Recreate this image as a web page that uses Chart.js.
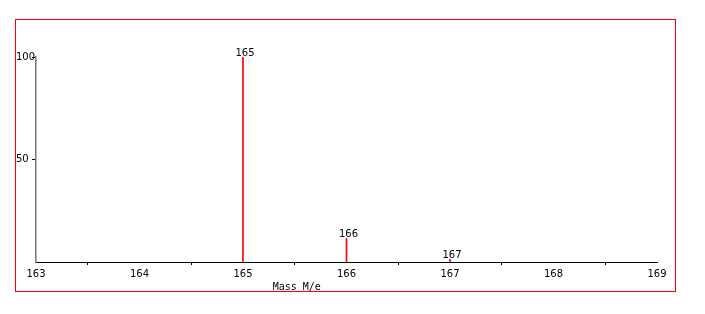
<!DOCTYPE html>
<html>
<head>
<meta charset="utf-8">
<script src="https://cdn.jsdelivr.net/npm/chart.js@4"></script>
<style>
  body { margin: 0; background: #fff; }
  #spectrum { display: block; }
</style>
</head>
<body>
<canvas id="spectrum" width="705" height="314"></canvas>
<script>
const masses = [165, 166, 167];
const intensities = [100, 11.5, 1.3];
const peakLabels = ['165', '166', '167'];
const yTicks = [50, 100];
const xTitle = 'Mass M/e';

const ctx = document.getElementById('spectrum').getContext('2d');

// red frame round the whole plot
const frame = {
    id: 'frame',
    beforeDraw(chart) {
        const c = chart.ctx;
        c.save();
        c.strokeStyle = '#ff0000';
        c.lineWidth = 1;
        c.strokeRect(15.5, 19.5, 660, 272);
        c.restore();
    }
};

// labels over each peak + the off-centre axis title
const peakText = {
    id: 'peakText',
    afterDatasetsDraw(chart) {
        const c = chart.ctx;
        const meta = chart.getDatasetMeta(0);
        c.save();
        c.fillStyle = '#000';
        c.font = '10px "DejaVu Sans"';
        c.textAlign = 'center';
        c.textBaseline = 'bottom';
        meta.data.forEach((bar, i) => {
            c.fillText(peakLabels[i], bar.x + 2, bar.y + 1);
        });
        const xs = chart.scales.x;
        c.font = '10px "DejaVu Sans Mono"';
        c.textBaseline = 'middle';
        c.fillText(xTitle, xs.getPixelForValue(165.5) + 2, xs.top + 25);
        c.restore();
    }
};

Chart.defaults.color = '#000';
Chart.defaults.font.family = '"DejaVu Sans"';
Chart.defaults.font.size = 10;

new Chart(ctx, {
    type: 'bar',
    data: {
        datasets: [{
            data: masses.map((m, i) => ({ x: m, y: intensities[i] })),
            backgroundColor: '#ff0000',
            borderWidth: 0,
            barThickness: 1
        }]
    },
    options: {
        responsive: false,
        animation: false,
        devicePixelRatio: 1,
        layout: { padding: { top: 57, right: 48, left: 16, bottom: 22 } },
        plugins: { legend: { display: false }, tooltip: { enabled: false } },
        scales: {
            x: {
                type: 'linear',
                offset: false,
                min: 163,
                max: 169,
                afterFit: s => { s.height = 30; },
                border: { color: '#000', width: 1 },
                grid: {
                    offset: false,
                    drawOnChartArea: false,
                    tickLength: 3,
                    color: c => (c.tick && c.tick.value % 1) ? '#000' : 'rgba(0,0,0,0)'
                },
                ticks: {
                    stepSize: 0.5,
                    autoSkip: false,
                    maxRotation: 0,
                    padding: 3,
                    callback: v => Number.isInteger(v) ? String(v) : ''
                }
            },
            y: {
                min: 0,
                max: 100,
                afterFit: s => { s.width = 20; },
                afterBuildTicks: s => { s.ticks = yTicks.map(v => ({ value: v })); },
                border: { color: '#777', width: 1.5 },
                grid: { drawOnChartArea: false, tickLength: 4, color: '#000' },
                ticks: { crossAlign: 'far', padding: 1 }
            }
        }
    },
    plugins: [frame, peakText]
});
</script>
</body>
</html>
